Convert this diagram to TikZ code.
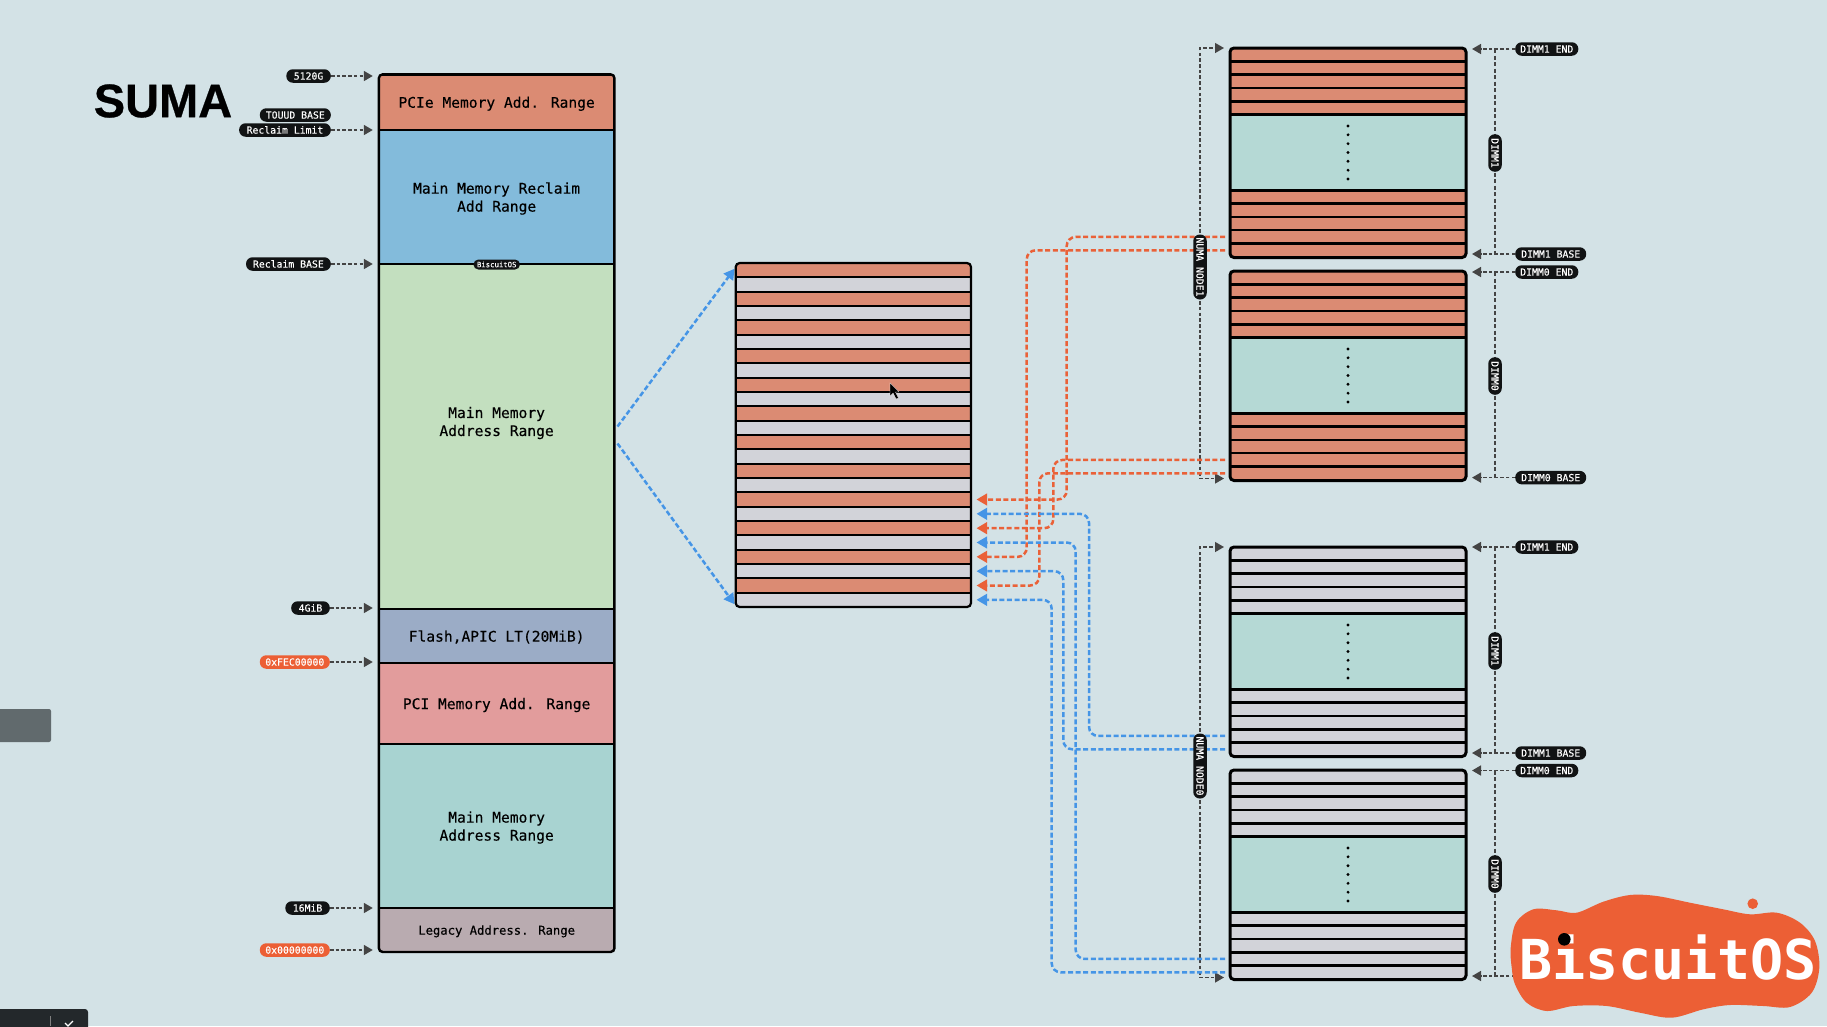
\documentclass[tikz,border=0pt]{standalone}
\usepackage{fontspec}
\usetikzlibrary{arrows.meta,calc}
\setmainfont{Liberation Sans}
\newfontfamily\monof[FakeBold=0.25]{DejaVu Sans Mono}
\newfontfamily\monologo{DejaVu Sans Mono}
\newfontfamily\titlef[FakeBold=0.6]{Liberation Sans Bold}
\definecolor{bgc}{HTML}{D3E2E6}
\definecolor{orseg}{HTML}{DB8B73}
\definecolor{blseg}{HTML}{83BBDB}
\definecolor{grseg}{HTML}{C3DFBF}
\definecolor{flseg}{HTML}{9BACC6}
\definecolor{pcseg}{HTML}{E29C9C}
\definecolor{teseg}{HTML}{A8D3D1}
\definecolor{leseg}{HTML}{B9ABB0}
\definecolor{gyst}{HTML}{D2D3D9}
\definecolor{tebk}{HTML}{B5D9D5}
\definecolor{orline}{HTML}{EA6138}
\definecolor{blline}{HTML}{4595E6}
\definecolor{lbl}{HTML}{444444}
\definecolor{pillk}{HTML}{111314}
\definecolor{logoc}{HTML}{EC5F35}
\definecolor{wgr}{HTML}{616A6D}
\definecolor{wbk}{HTML}{23282B}
\pgfdeclarelayer{bg}
\pgfdeclarelayer{conn}
\pgfdeclarelayer{top}
\pgfsetlayers{bg,conn,main,top}
\tikzset{
  seg/.style={draw=black,line width=2.4pt,inner sep=0pt,outer sep=0pt,anchor=north west,minimum width=235.7pt,align=center,text=black,text depth=0pt,font=\monof\fontsize{14.6}{18}\selectfont},
  legacyfont/.style={font=\monof\fontsize{12.2}{14}\selectfont},
  segtext/.style={align=center,text=black,inner sep=0pt,font=\monof\fontsize{14.6}{18}\selectfont},
  frame/.style={draw=black,inner sep=0pt,outer sep=0pt,rounded corners=4pt,anchor=north west},
  mstripe/.style={draw=black,line width=2pt,inner sep=0pt,outer sep=0pt,anchor=north west,minimum width=235.3pt,minimum height=14.33pt},
  bstripe/.style={draw=black,line width=2.4pt,inner sep=0pt,outer sep=0pt,anchor=north west,minimum width=236pt,minimum height=13.33pt},
  pill/.style={fill=pillk,text=white,rounded corners=6.5pt,inner xsep=7.5pt,inner ysep=0pt,minimum height=13.5pt,text height=7.2pt,text depth=0pt,font=\monof\fontsize{9.8}{11}\selectfont},
  redpill/.style={pill,fill=logoc,inner xsep=5.5pt},
  vpill/.style={pill,rotate=-90,inner xsep=4pt},
  lblarrow/.style={draw=lbl,line width=1.6pt,dash pattern=on 3.5pt off 2.2pt,-{Triangle[length=9pt,width=10pt]},shorten >=6pt},
  lblline/.style={draw=lbl,line width=1.3pt,dash pattern=on 4pt off 2.5pt},
  cOr/.style={draw=orline,line width=2.5pt,dash pattern=on 5pt off 2.6pt,rounded corners=9pt,-{Triangle[length=10.5pt,width=11.5pt]},shorten >=5.5pt,shorten <=5pt},
  cBl/.style={cOr,draw=blline},
  fanarrow/.style={draw=blline,line width=2.5pt,dash pattern=on 5pt off 2.6pt,-{Triangle[length=10.5pt,width=11.5pt]},shorten >=2pt}
}
\begin{document}
\begin{tikzpicture}[x=1pt,y=-1pt]
\useasboundingbox (0,-1) rectangle (1827,1025);
\begin{pgfonlayer}{bg}
  \fill[bgc] (0,-1) rectangle (1827,1025);
  \fill[wgr,rounded corners=2pt] (-6,708) rectangle (51,741);
  \fill[wbk,rounded corners=3pt] (-6,1008) rectangle (88,1036);
  \draw[gray,line width=.7pt] (50,1015) -- (50,1025);
  \draw[white,line width=1.2pt] (65,1022) -- (68,1025) -- (73,1020);
\end{pgfonlayer}

% title
\node[font=\titlef\fontsize{47}{50}\selectfont,inner sep=0pt,text=black] (title) at (163,100) {SUMA};

% left column
\begin{scope}
  \clip[rounded corners=4pt] (378.8,73.3) rectangle (614.5,951);
  \node[seg,fill=orseg,minimum height=55.7pt] (s1) at (378.8,73.3) {PCIe Memory Add. Range};
  \node[seg,fill=blseg,minimum height=134pt] (s2) at (378.8,129) {Main Memory Reclaim\\Add Range};
  \node[seg,fill=grseg,minimum height=345pt] (s3) at (378.8,263) {};
  \node[seg,fill=flseg,minimum height=54pt] (s4) at (378.8,608) {Flash,APIC LT(20MiB)};
  \node[seg,fill=pcseg,minimum height=81pt] (s5) at (378.8,662) {PCI Memory Add. Range};
  \node[seg,fill=teseg,minimum height=164pt] (s6) at (378.8,743) {Main Memory\\Address Range};
  \node[seg,fill=leseg,minimum height=44pt,legacyfont] (s7) at (378.8,907) {Legacy Address. Range};
\end{scope}
\node[segtext] (s3text) at (496.6,422) {Main Memory\\Address Range};
\node[frame,line width=2.4pt,minimum width=235.7pt,minimum height=877.7pt] (col) at (378.8,73.3) {};
\node[pill,fill=pillk,inner xsep=3.5pt,minimum height=10pt,rounded corners=5pt,text height=5.4pt,font=\monof\fontsize{7.3}{8}\selectfont] (wm) at (496.7,263.5) {BiscuitOS};

% left pills
\node[pill,anchor=east] (p1) at (331,75) {5120G};
\node[pill,anchor=east,inner xsep=6pt] (p2) at (331,114) {TOUUD BASE};
\node[pill,anchor=east] (p3) at (331,129) {Reclaim Limit};
\node[pill,anchor=east,inner xsep=7pt] (p4) at (331,263) {Reclaim BASE};
\node[pill,anchor=east] (p5) at (330,607) {4GiB};
\node[redpill,anchor=east] (p6) at (330,661) {0xFEC00000};
\node[pill,anchor=east] (p7) at (330,907) {16MiB};
\node[redpill,anchor=east] (p8) at (330,949) {0x00000000};

% middle stripes
\begin{scope}
  \clip[rounded corners=4pt] (735.7,262) rectangle (971,606);
  \foreach \i in {1,...,24} {
    \pgfmathtruncatemacro{\odd}{mod(\i,2)}
    \ifnum\odd=1 \def\fc{orseg}\else\def\fc{gyst}\fi
    \node[mstripe,fill=\fc] (ms\i) at (735.7,{262+(\i-1)*14.333}) {};
  }
\end{scope}
\node[frame,line width=2.2pt,minimum width=235.3pt,minimum height=344pt] (mid) at (735.7,262) {};
% pointer
\fill[black,draw=white,line width=.3pt] (890,382) -- (890,395) -- (893,392) -- (896,398) -- (898.5,397) -- (895.5,391) -- (899,391) -- cycle;

% right blocks
\foreach \n/\ytop/\fc in {1/47/orseg,2/270/orseg,3/546/gyst,4/769/gyst} {
  \begin{scope}
    \clip[rounded corners=4pt] (1230,\ytop) rectangle (1466,{\ytop+209.5});
    \foreach \i in {1,...,5} {
      \node[bstripe,fill=\fc] (b\n s\i) at (1230,{\ytop+(\i-1)*13.33}) {};
    }
    \node[bstripe,fill=tebk,minimum height=75.65pt] (b\n t) at (1230,{\ytop+66.65}) {};
    \foreach \i [evaluate=\i as \k using int(\i+5)] in {1,...,5} {
      \node[bstripe,fill=\fc] (b\n s\k) at (1230,{\ytop+142.3+(\i-1)*13.33}) {};
    }
  \end{scope}
  \node[frame,line width=3pt,minimum width=236pt,minimum height=209.5pt] (blk\n) at (1230,\ytop) {};
  \foreach \d in {0,...,6} {
    \fill[black] (1348,{\ytop+78+\d*8.83}) circle (1.6pt);
  }
}

% right pills
\node[pill,anchor=west,inner xsep=5pt] (e1) at (1515,48) {DIMM1 END};
\node[pill,anchor=west,inner xsep=6pt] (f1) at (1515,253) {DIMM1 BASE};
\node[pill,anchor=west,inner xsep=5pt] (e2) at (1515,271) {DIMM0 END};
\node[pill,anchor=west,inner xsep=6pt] (f2) at (1515,476.6) {DIMM0 BASE};
\node[pill,anchor=west,inner xsep=5pt] (e3) at (1515,546) {DIMM1 END};
\node[pill,anchor=west,inner xsep=6pt] (f3) at (1515,752) {DIMM1 BASE};
\node[pill,anchor=west,inner xsep=5pt] (e4) at (1515,769.5) {DIMM0 END};
\coordinate (f4) at (1515,975);

\node[vpill] (d1) at (1495,152) {DIMM1};
\node[vpill] (d2) at (1495,375) {DIMM0};
\node[vpill] (d3) at (1495,650) {DIMM1};
\node[vpill] (d4) at (1495,873) {DIMM0};
\node[vpill,inner xsep=3pt] (n1) at (1200,266) {NUMA NODE1};
\node[vpill,inner xsep=3pt] (n0) at (1200,765) {NUMA NODE0};

\coordinate (ox1) at (1066.7,0);
\coordinate (ox2) at (1053.3,0);
\coordinate (ox3) at (1026.7,0);
\coordinate (ox4) at (1039.3,0);
\coordinate (bx1) at (1089,0);
\coordinate (bx2) at (1075.7,0);
\coordinate (bx3) at (1063.3,0);
\coordinate (bx4) at (1051.7,0);

\begin{pgfonlayer}{conn}
  % left labels to column
  \foreach \p in {p1,p3,p4,p5,p6,p7,p8} {
    \draw[lblarrow] (\p.east) -- (\p.east -| col.west);
  }
  % right labels to blocks
  \draw[lblarrow] (e1.west) -- (e1.west -| blk1.east);
  \draw[lblarrow] (f1.west) -- (f1.west -| blk1.east);
  \draw[lblarrow] (e2.west) -- (e2.west -| blk2.east);
  \draw[lblarrow] (f2.west) -- (f2.west -| blk2.east);
  \draw[lblarrow] (e3.west) -- (e3.west -| blk3.east);
  \draw[lblarrow] (f3.west) -- (f3.west -| blk3.east);
  \draw[lblarrow] (e4.west) -- (e4.west -| blk4.east);
  \draw[lblarrow] (f4) -- (f4 -| blk4.east);
  % DIMM brackets
  \draw[lblline] (d1.center |- e1.west) -- (d1.center) -- (d1.center |- f1.west);
  \draw[lblline] (d2.center |- e2.west) -- (d2.center) -- (d2.center |- f2.west);
  \draw[lblline] (d3.center |- e3.west) -- (d3.center) -- (d3.center |- f3.west);
  \draw[lblline] (d4.center |- e4.west) -- (d4.center) -- (d4.center |- f4);
  % NUMA brackets
  \draw[lblarrow,line width=1.3pt] (n1.center) |- (blk1.north west);
  \draw[lblarrow,line width=1.3pt] (n1.center) |- ($(blk2.south west)+(0,-2)$);
  \draw[lblarrow,line width=1.3pt] (n0.center) |- (blk3.north west);
  \draw[lblarrow,line width=1.3pt] (n0.center) |- ($(blk4.south west)+(0,-2)$);
  % fan
  \draw[fanarrow] ($(s3.east)+(3,-10)$) -- ($(ms1.west)+(0,-3)$);
  \draw[fanarrow] ($(s3.east)+(3,7)$) -- ($(ms24.west)+(0,6)$);
  % orange
  \draw[cOr] (b1s9.west) -- (ox1 |- b1s9.west) -- (ox1 |- ms17.east) -- (ms17.east);
  \draw[cOr] (b2s9.west) -- (ox2 |- b2s9.west) -- (ox2 |- ms19.east) -- (ms19.east);
  \draw[cOr] (b1s10.west) -- (ox3 |- b1s10.west) -- (ox3 |- ms21.east) -- (ms21.east);
  \draw[cOr] (b2s10.west) -- (ox4 |- b2s10.west) -- (ox4 |- ms23.east) -- (ms23.east);
  % blue
  \draw[cBl] (b3s9.west) -- (bx1 |- b3s9.west) -- (bx1 |- ms18.east) -- (ms18.east);
  \draw[cBl] (b4s9.west) -- (bx2 |- b4s9.west) -- (bx2 |- ms20.east) -- (ms20.east);
  \draw[cBl] (b3s10.west) -- (bx3 |- b3s10.west) -- (bx3 |- ms22.east) -- (ms22.east);
  \draw[cBl] (b4s10.west) -- (bx4 |- b4s10.west) -- (bx4 |- ms24.east) -- (ms24.east);
\end{pgfonlayer}

% logo
\begin{pgfonlayer}{top}
  \fill[logoc] plot[smooth cycle,tension=.55] coordinates {
    (1510.7,946.7) (1516,921.7) (1533.3,908.3) (1556.7,909.3) (1576.7,911.7)
    (1603.3,900.7) (1630,894) (1656.7,895) (1690,901.7) (1723.3,908.3)
    (1750,913.3) (1776.7,911.7) (1800,921.7) (1815,940) (1819.3,966.7)
    (1811.7,991.7) (1790,1006) (1763.3,1005) (1730,1004) (1703.3,1008.3)
    (1671.7,1016.7) (1640,1011.7) (1606.7,1005) (1573.3,1005) (1546.7,1010)
    (1526.7,1001.7) (1515,983.3) (1511.7,966.7)};
  \fill[logoc] (1752.7,902.7) circle (5.3pt);
  \node[text=white,inner sep=0pt,text height=41pt,text depth=0pt,font=\monologo\bfseries\fontsize{55}{60}\selectfont] (logo) at (1668,958) {BiscuitOS};
  \fill[black] (1564.3,938.3) circle (6.3pt);
\end{pgfonlayer}
\end{tikzpicture}
\end{document}
